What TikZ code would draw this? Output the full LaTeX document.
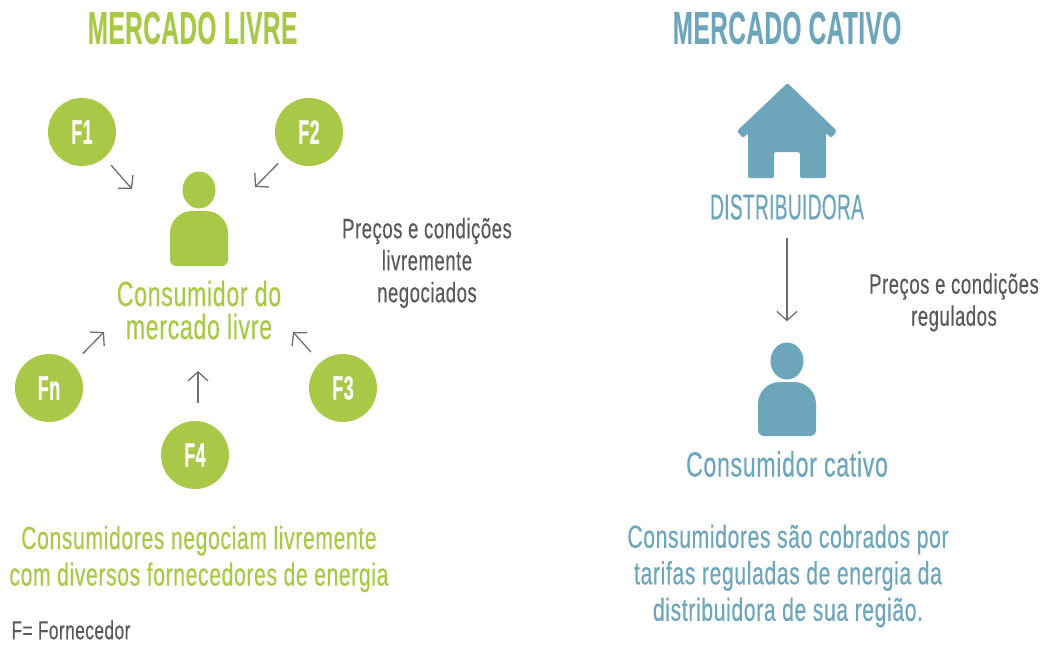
\documentclass[tikz,border=0pt]{standalone}
\usepackage{fontspec}
\usepackage{tikz}
\usetikzlibrary{arrows.meta, shapes.geometric}
\newfontfamily\condfont[FakeStretch=0.66,LetterSpace=2,FakeBold=0.35]{Liberation Sans}
\newfontfamily\capsfont[FakeStretch=0.53,LetterSpace=1,FakeBold=0.35]{Liberation Sans}
\newfontfamily\titlefont[FakeStretch=0.53,LetterSpace=1,FakeBold=0.35]{Liberation Sans Bold}
\definecolor{nicegreen}{RGB}{170, 200, 72}
\definecolor{niceblue}{RGB}{109, 165, 186}
\definecolor{dgray}{RGB}{88, 89, 91}
\definecolor{lgray}{RGB}{109, 110, 113}
\tikzset{
	fcircle/.style = {circle, fill = nicegreen, text = white, minimum size = 68pt, inner sep = 0pt, font = \titlefont\fontsize{34}{36}\selectfont},
	headicon/.style = {ellipse, minimum width = 33pt, minimum height = 37pt, inner sep = 0pt},
	titletext/.style = {font = \titlefont\fontsize{46}{48}\selectfont},
	bigtext/.style = {align = center, font = \condfont\fontsize{35}{33}\selectfont},
	midtext/.style = {align = center, font = \condfont\fontsize{32}{36.5}\selectfont},
	smalltext/.style = {align = center, text = dgray, font = \condfont\fontsize{28}{32}\selectfont},
	garrow/.style = {draw = lgray, line width = 1.3pt, -{Straight Barb[length = 9pt, width = 20pt]}}
}
\begin{document}
\begin{tikzpicture}[x = 1pt, y = -1pt]
	\useasboundingbox (0,0) rectangle (1054,650);
	\node (livre) at (192.5,28) [titletext, text = nicegreen] {MERCADO LIVRE};
	\node (cativo) at (787,28) [titletext, text = niceblue] {MERCADO CATIVO};
	\node (f1) at (82,132) [fcircle] {F1};
	\node (f2) at (309,132) [fcircle] {F2};
	\node (f3) at (343,388) [fcircle] {F3};
	\node (f4) at (195,455) [fcircle] {F4};
	\node (fn) at (49,388) [fcircle] {Fn};
	\node (headl) at (199,190) [headicon, fill = nicegreen] {};
	\fill [nicegreen, rounded corners = 22pt] (170,240) -- (170,211) -- (228,211) -- (228,240);
	\fill [nicegreen, rounded corners = 6pt] (170,230) -- (170,266) -- (228,266) -- (228,230) -- cycle;
	\node (consl) at (199,310) [bigtext, text = nicegreen] {Consumidor do\\mercado livre};
	\node (precol) at (427,263) [smalltext] {Preços e condições\\livremente\\negociados};
	\coordinate (t1) at (132,189);
	\coordinate (t2) at (255,187);
	\coordinate (t3) at (293,332);
	\coordinate (t4) at (198,371);
	\coordinate (tn) at (104,332);
	\draw [garrow, shorten <= 10pt] (f1) -- (t1);
	\draw [garrow, shorten <= 10pt] (f2) -- (t2);
	\draw [garrow, shorten <= 14pt] (f3) -- (t3);
	\draw [garrow, shorten <= 18pt] (f4.north -| t4) -- (t4);
	\draw [garrow, shorten <= 14pt] (fn) -- (tn);
	\node (textl) at (199,559) [midtext, text = nicegreen] {Consumidores negociam livremente\\com diversos fornecedores de energia};
	\node (legenda) at (71,630) [text = dgray, font = \condfont\fontsize{26}{30}\selectfont] {F= Fornecedor};
	\fill [niceblue, rounded corners = 2pt] (787.5,83) -- (837,131) -- (831,138) -- (826,133) -- (826,178) -- (800,178) -- (800,152) -- (774,152) -- (774,178) -- (748,178) -- (748,133) -- (743,138) -- (737,131) -- cycle;
	\node (distr) at (787,207) [text = niceblue, font = \capsfont\fontsize{36}{36}\selectfont] {DISTRIBUIDORA};
	\node (headc) at (787,361) [headicon, fill = niceblue] {};
	\fill [niceblue, rounded corners = 22pt] (758,410) -- (758,382) -- (816,382) -- (816,410);
	\fill [niceblue, rounded corners = 6pt] (758,400) -- (758,436) -- (816,436) -- (816,400) -- cycle;
	\draw [garrow, shorten <= 15pt, shorten >= 21pt] (distr) -- (headc);
	\node (precoc) at (954,302.5) [smalltext] {Preços e condições\\regulados};
	\node (consc) at (787,464) [bigtext, text = niceblue] {Consumidor cativo};
	\node (textc) at (788,576) [midtext, text = niceblue] {Consumidores são cobrados por\\tarifas reguladas de energia da\\distribuidora de sua região.};
\end{tikzpicture}
\end{document}
